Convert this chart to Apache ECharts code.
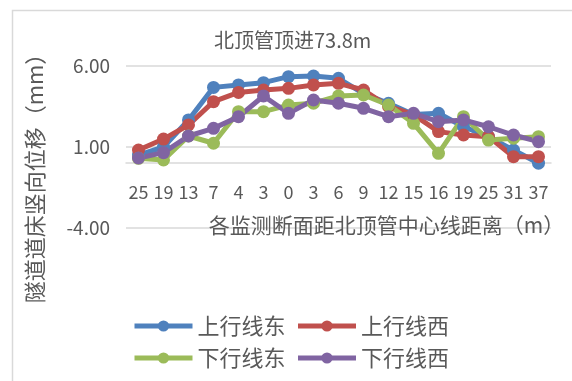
<!DOCTYPE html>
<html>
<head>
<meta charset="utf-8">
<script src="https://cdn.jsdelivr.net/npm/echarts@6/dist/echarts.min.js"></script>
<style>
html,body{margin:0;padding:0;background:#fff;}
#c{width:572px;height:381px;}
</style>
</head>
<body>
<div id="c"></div>
<script>
const categories = ['25','19','13','7','4','3','0','3','6','9','12','15','16','19','25','31','37'];
const upEast  = [0.5, 1.0, 2.67, 4.68, 4.83, 4.97, 5.34, 5.38, 5.24, 4.3, 3.7, 3.0, 3.08, 2.25, 1.64, 0.81, 0.0];
const upWest  = [0.81, 1.49, 2.36, 3.8, 4.37, 4.52, 4.62, 4.83, 4.93, 4.52, 3.5, 3.0, 1.95, 1.74, 1.64, 0.4, 0.4];
const downEast = [0.3, 0.2, 1.68, 1.23, 3.18, 3.18, 3.59, 3.7, 4.15, 4.21, 3.59, 2.46, 0.61, 2.87, 1.43, 1.54, 1.64];
const downWest = [0.32, 0.65, 1.68, 2.15, 2.87, 4.15, 3.08, 3.9, 3.7, 3.39, 2.87, 3.08, 2.56, 2.67, 2.25, 1.74, 1.33];
const seriesNames = ['上行线东','上行线西','下行线东','下行线西'];
const yTicks = {min: -4, max: 6, interval: 5};

const font = '"Noto Sans CJK SC", "Noto Sans", sans-serif';
const textColor = '#595959';
const colors = ['#4F81BD', '#C0504D', '#9BBB59', '#8064A2'];
const data = [upEast, upWest, downEast, downWest];

const chart = echarts.init(document.getElementById('c'));
chart.setOption({
  animation: false,
  color: colors,
  textStyle: {fontFamily: font},
  title: {
    text: '北顶管顶进73.8m',
    left: 209, top: 25,
    textStyle: {fontFamily: font, fontSize: 20, fontWeight: 'normal', color: textColor}
  },
  graphic: [{
    type: 'rect', left: 10, top: 8, z: -1, silent: true,
    shape: {width: 600, height: 400},
    style: {fill: 'none', stroke: '#d9d9d9', lineWidth: 1.5}
  }],
  grid: {left: 126, top: 66, width: 425, height: 162, containLabel: false},
  legend: {
    data: seriesNames,
    left: 127, top: 310, width: 340,
    itemWidth: 58, itemHeight: 14, itemGap: 10,
    lineStyle: {width: 5},
    textStyle: {fontFamily: font, fontSize: 22, color: textColor}
  },
  xAxis: {
    type: 'category',
    data: categories,
    boundaryGap: true,
    position: 'bottom',
    offset: -65,
    axisLine: {show: true, onZero: false, lineStyle: {color: '#d9d9d9', width: 1.5}},
    axisTick: {show: false},
    axisLabel: {interval: 0, margin: 20, fontSize: 18, color: textColor, fontFamily: font},
    name: '各监测断面距北顶管中心线距离（m）',
    nameLocation: 'middle',
    nameGap: 52,
    nameTextStyle: {fontSize: 21, color: textColor, fontFamily: font, padding: [0,0,0,96]}
  },
  yAxis: {
    type: 'value',
    min: yTicks.min, max: yTicks.max, interval: yTicks.interval,
    axisLine: {show: false},
    axisTick: {show: false},
    splitLine: {lineStyle: {color: '#d9d9d9', width: 1.5}},
    axisLabel: {margin: 16, fontSize: 19, color: textColor, fontFamily: font,
      formatter: v => v.toFixed(2)},
    name: '隧道道床竖向位移（mm）',
    nameLocation: 'middle',
    nameGap: 80,
    nameTextStyle: {fontSize: 22, color: textColor, fontFamily: font, padding: [0,52,0,0]}
  },
  series: seriesNames.map((n, i) => ({
    name: n,
    type: 'line',
    data: data[i],
    symbol: 'circle',
    symbolSize: 13,
    lineStyle: {width: 5},
    itemStyle: {color: colors[i]}
  }))
});
</script>
</body>
</html>
